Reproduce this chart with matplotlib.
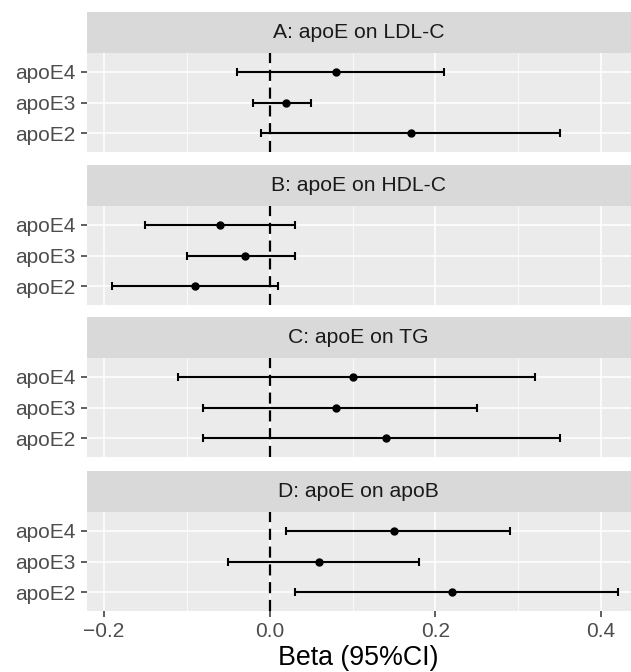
import matplotlib
matplotlib.use("Agg")
import matplotlib.pyplot as plt
import numpy as np

plt.rcParams['font.family'] = ['Liberation Sans', 'DejaVu Sans']

categories = ["apoE2", "apoE3", "apoE4"]
panel_titles = ["A: apoE on LDL-C", "B: apoE on HDL-C", "C: apoE on TG", "D: apoE on apoB"]

# order: apoE2, apoE3, apoE4
ldl_est = [0.17, 0.02, 0.08]
ldl_lo = [-0.01, -0.02, -0.04]
ldl_hi = [0.35, 0.05, 0.21]

hdl_est = [-0.09, -0.03, -0.06]
hdl_lo = [-0.19, -0.10, -0.15]
hdl_hi = [0.01, 0.03, 0.03]

tg_est = [0.14, 0.08, 0.10]
tg_lo = [-0.08, -0.08, -0.11]
tg_hi = [0.35, 0.25, 0.32]

apob_est = [0.22, 0.06, 0.15]
apob_lo = [0.03, -0.05, 0.02]
apob_hi = [0.42, 0.18, 0.29]

x_ticks = [-0.2, 0.0, 0.2, 0.4]
x_ticklabels = ["\u22120.2", "0.0", "0.2", "0.4"]
x_minor = [-0.1, 0.1, 0.3]

panels = [
    (ldl_est, ldl_lo, ldl_hi),
    (hdl_est, hdl_lo, hdl_hi),
    (tg_est, tg_lo, tg_hi),
    (apob_est, apob_lo, apob_hi),
]

W, H = 631, 672
fig = plt.figure(figsize=(W / 100, H / 100), dpi=100)

left_px, right_px = 86.5, 631
panel_tops = [53, 206, 358, 512]
panel_h = 99
strip_h = 41

xlim = (-0.221, 0.436)

for i, (est, lo, hi) in enumerate(panels):
    top = panel_tops[i]
    ax = fig.add_axes([left_px / W, (H - top - panel_h) / H,
                       (right_px - left_px) / W, panel_h / H])
    ax.set_facecolor("#EBEBEB")
    for s in ax.spines.values():
        s.set_visible(False)
    ax.set_xlim(*xlim)
    ax.set_ylim(0.4, 3.6)
    ypos = np.arange(1, len(categories) + 1)
    ax.set_yticks(ypos)
    ax.set_yticklabels(categories)
    ax.set_xticks(x_ticks)
    ax.set_xticks(x_minor, minor=True)
    ax.grid(True, which='major', color='white', linewidth=1.1)
    ax.grid(True, which='minor', axis='x', color='white', linewidth=0.55)
    ax.set_axisbelow(True)
    ax.tick_params(axis='both', which='major', length=4.3, width=1.1,
                   color='#333333', labelsize=15, labelcolor='#4D4D4D', pad=3.5)
    ax.tick_params(axis='both', which='minor', length=0)
    if i < 3:
        ax.tick_params(axis='x', which='major', length=0, labelbottom=False)
    else:
        ax.set_xticklabels(x_ticklabels)
        ax.set_xlabel("Beta (95%CI)", fontsize=19.3, color='black', labelpad=3)

    ax.axvline(0, color='black', linewidth=1.6, linestyle=(0, (5, 3)), zorder=2)
    est_a = np.array(est)
    xerr = [est_a - np.array(lo), np.array(hi) - est_a]
    ax.errorbar(est_a, ypos, xerr=xerr, fmt='o', color='black', ecolor='black',
                markersize=5, elinewidth=1.5, capsize=2.8, capthick=1.5, zorder=3)

    sax = fig.add_axes([left_px / W, (H - top) / H,
                        (right_px - left_px) / W, strip_h / H])
    sax.set_facecolor("#D9D9D9")
    sax.set_xticks([])
    sax.set_yticks([])
    for s in sax.spines.values():
        s.set_visible(False)
    sax.text(0.5, 0.5, panel_titles[i], ha='center', va='center',
             fontsize=15.2, color='#1A1A1A', transform=sax.transAxes)

fig.savefig("out.png", dpi=100)
